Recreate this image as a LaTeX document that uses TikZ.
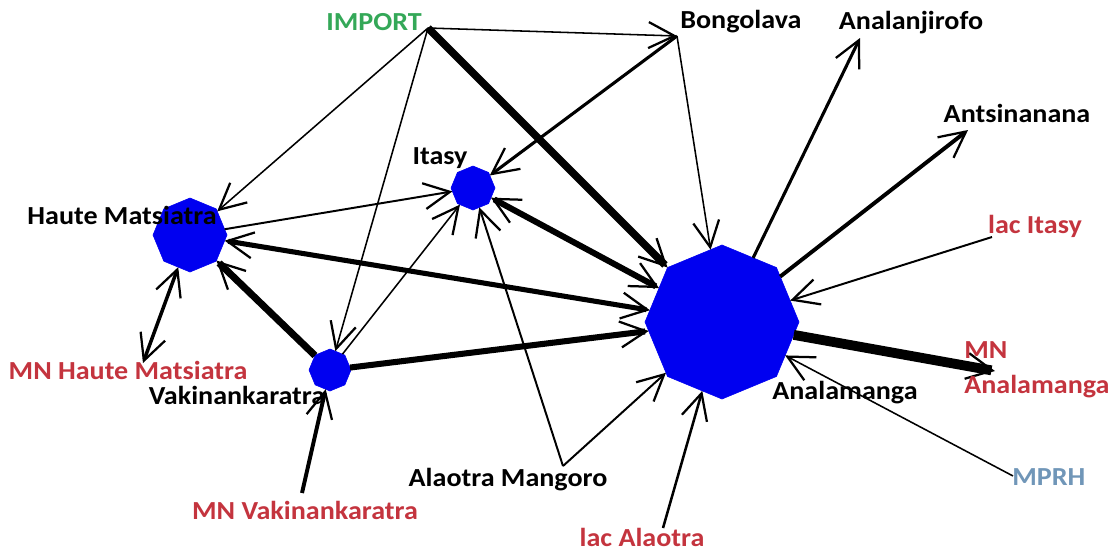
\documentclass[tikz,border=0pt]{standalone}
\usepackage{fontspec}
\setmainfont{Carlito}[FakeStretch=1.08]
\usetikzlibrary{arrows.meta,shapes.geometric}
\definecolor{regblue}{RGB}{0,0,240}
\definecolor{mnred}{RGB}{196,52,62}
\definecolor{impgreen}{RGB}{52,168,88}
\definecolor{mprhblue}{RGB}{112,150,184}

\begin{document}
\begin{tikzpicture}[x=0.025cm,y=-0.025cm,
	region/.style={draw=regblue,fill=regblue,regular polygon,regular polygon sides=8,shape border rotate=22.5,inner sep=0,outer sep=0},
	lbl/.style={font=\fontsize{18.5}{25}\selectfont\bfseries,inner sep=0},
	redlbl/.style={lbl,text=mnred},
	barb/.tip={Straight Barb[length=6.5mm,width=6.5mm,line width=1.6pt]},
	flow/.style={-barb},
	both/.style={barb-barb}]
	\useasboundingbox (0,0) rectangle (1120,554);
	\node[region,minimum size=3.85cm] (anal) at (722,322) {};
	\node[region,minimum size=1.85cm] (hm) at (190,235) {};
	\node[region,minimum size=1.1cm] (itasy) at (473,188) {};
	\node[region,minimum size=1.05cm] (vak) at (330,370) {};
	\coordinate (import) at (428,28);
	\coordinate (bongolava) at (677,36);
	\coordinate (analanjirofo) at (860,38);
	\coordinate (antsinanana) at (968,130);
	\coordinate (lacitasy) at (992,237);
	\coordinate (mnanal) at (995,371);
	\coordinate (mprh) at (1013,476);
	\coordinate (lacalaotra) at (663,528);
	\coordinate (alaotra) at (563,466);
	\coordinate (mnvak) at (302,493);
	\coordinate (mnhm) at (143,363);
	\draw[flow,line width=1.1pt] (import) -- (bongolava);
	\draw[flow,line width=1.1pt] (import) -- (hm);
	\draw[flow,line width=1.1pt] (import) -- (vak);
	\draw[flow,line width=5.5pt] (import) -- (anal);
	\draw[flow,line width=2.2pt] (bongolava) -- (itasy);
	\draw[flow,line width=1.1pt] (bongolava) -- (anal);
	\draw[flow,line width=2.2pt] (anal) -- (analanjirofo);
	\draw[flow,line width=2.8pt] (anal) -- (antsinanana);
	\draw[flow,line width=1.4pt] (lacitasy) -- (anal);
	\draw[flow,line width=7pt] (anal) -- (mnanal);
	\draw[flow,line width=1.1pt] (mprh) -- (anal);
	\draw[flow,line width=1.8pt] (lacalaotra) -- (anal);
	\draw[flow,line width=1.4pt] (alaotra) -- (anal);
	\draw[flow,line width=1.4pt] (alaotra) -- (itasy);
	\draw[both,line width=4.3pt] (itasy) -- (anal);
	\draw[both,line width=3.6pt] (hm) -- (anal);
	\draw[flow,line width=1.4pt] (hm) -- (itasy);
	\draw[flow,line width=5pt] (vak) -- (hm);
	\draw[flow,line width=1.1pt] (vak) -- (itasy);
	\draw[flow,line width=4.3pt] (vak) -- (anal);
	\draw[flow,line width=2.8pt] (mnvak) -- (vak);
	\draw[both,line width=2.5pt] (mnhm) -- (hm);
	\node[lbl,text=impgreen] (importlbl) at (374,22) {IMPORT};
	\node[lbl,anchor=west] (bongolavalbl) at (680,22) {Bongolava};
	\node[lbl] (analanjirofolbl) at (911,23) {Analanjirofo};
	\node[lbl] (antsinananalbl) at (1017,113) {Antsinanana};
	\node[redlbl] (lacitasylbl) at (1035,226) {lac Itasy};
	\node[redlbl,anchor=west,align=left] (mnanallbl) at (964,370) {MN\\Analamanga};
	\node[lbl,text=mprhblue,anchor=west] (mprhlbl) at (1012,477) {MPRH};
	\node[redlbl] (lacalaotralbl) at (642,537) {lac Alaotra};
	\node[lbl] (alaotralbl) at (508,480) {Alaotra Mangoro};
	\node[redlbl] (mnvaklbl) at (305,510) {MN Vakinankaratra};
	\node[redlbl] (mnhmlbl) at (128,370) {MN Haute Matsiatra};
	\node[lbl] (vaklbl) at (237,395) {Vakinankaratra};
	\node[lbl] (hmlbl) at (122,215) {Haute Matsiatra};
	\node[lbl] (itasylbl) at (440,158) {Itasy};
	\node[lbl] (anallbl) at (845,393) {Analamanga};
\end{tikzpicture}
\end{document}
